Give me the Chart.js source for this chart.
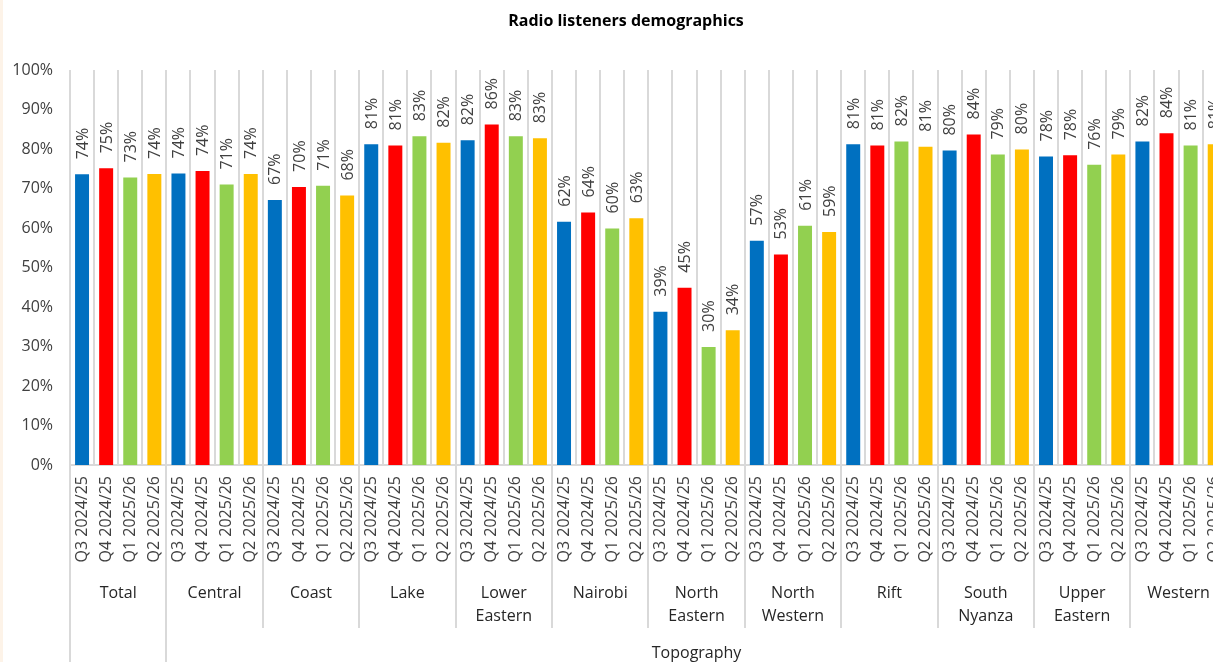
<!DOCTYPE html>
<html lang="en">
<head>
<meta charset="utf-8">
<title>Radio listeners demographics</title>
<script src="https://cdn.jsdelivr.net/npm/chart.js@4.4.1/dist/chart.umd.min.js"></script>
<style>
  html, body { margin: 0; padding: 0; background: #fff; overflow: hidden; }
  #wrap { position: relative; width: 1245px; height: 662px; border-left: 3px solid #fdf3e8; box-sizing: border-box; }
</style>
</head>
<body>
<div id="wrap"><canvas id="myChart"></canvas></div>

<script>
// regions (first one is the overall total, the rest sit under "Topography")
var regions = ['Total', 'Central', 'Coast', 'Lake', 'Lower\nEastern', 'Nairobi', 'North\nEastern',
  'North\nWestern', 'Rift', 'South\nNyanza', 'Upper\nEastern', 'Western'];
var quarters = ['Q3 2024/25', 'Q4 2024/25', 'Q1 2025/26', 'Q2 2025/26'];
var superGroup = 'Topography';

// share of listeners per quarter, %
var q3_2425 = [73.6, 73.8, 67.1, 81.2, 82.2, 61.6, 38.8, 56.8, 81.2, 79.6, 78.1, 81.9];
var q4_2425 = [75.1, 74.4, 70.4, 80.9, 86.2, 63.9, 44.9, 53.3, 80.9, 83.7, 78.4, 84.0];
var q1_2526 = [72.8, 71.0, 70.7, 83.2, 83.2, 59.9, 29.9, 60.6, 81.9, 78.6, 76.0, 80.9];
var q2_2526 = [73.7, 73.7, 68.2, 81.6, 82.7, 62.5, 34.1, 59.0, 80.6, 79.9, 78.6, 81.2];

var yTicks = [0, 10, 20, 30, 40, 50, 60, 70, 80, 90, 100];
var colors = ['#0070C0', '#FF0000', '#92D050', '#FFC000'];

// flatten into one bar per region/quarter
var series = [q3_2425, q4_2425, q1_2526, q2_2526];
var labels = [], values = [], barColors = [];
regions.forEach(function (r, i) {
  quarters.forEach(function (q, j) {
    labels.push(q);
    values.push(series[j][i]);
    barColors.push(colors[j]);
  });
});

var FONT = "'Open Sans', 'Noto Sans', sans-serif";
var AXIS_GRAY = '#d9d9d9';

// percentage written vertically above each bar
var barLabels = {
  id: 'barLabels',
  afterDatasetsDraw: function (chart) {
    var ctx = chart.ctx;
    var meta = chart.getDatasetMeta(0);
    ctx.save();
    ctx.font = '16px ' + FONT;
    ctx.fillStyle = '#404040';
    ctx.textAlign = 'left';
    ctx.textBaseline = 'middle';
    meta.data.forEach(function (bar, i) {
      ctx.save();
      ctx.translate(bar.x, bar.y - 15);
      ctx.rotate(-Math.PI / 2);
      ctx.fillText(Math.round(values[i]) + '%', 0, 1);
      ctx.restore();
    });
    ctx.restore();
  }
};

// title, region names, separators and the "Topography" band
var multiLevel = {
  id: 'multiLevel',
  afterDraw: function (chart) {
    var ctx = chart.ctx;
    var x = chart.scales.x;
    var area = chart.chartArea;
    var half = (x.getPixelForValue(1) - x.getPixelForValue(0)) / 2;
    ctx.save();

    ctx.font = 'bold 16px ' + FONT;
    ctx.fillStyle = '#000';
    ctx.textAlign = 'center';
    ctx.textBaseline = 'middle';
    ctx.fillText('Radio listeners demographics', 623, 21);

    ctx.strokeStyle = AXIS_GRAY;
    ctx.lineWidth = 2;
    for (var g = 0; g <= regions.length; g++) {
      var bx = Math.round(x.getPixelForValue(g * 4) - half);
      var bottom = (g <= 1) ? chart.height : 628;
      ctx.beginPath();
      ctx.moveTo(bx, area.bottom);
      ctx.lineTo(bx, bottom);
      ctx.stroke();
    }

    ctx.font = '16px ' + FONT;
    ctx.fillStyle = '#262626';
    regions.forEach(function (r, i) {
      var cx = (x.getPixelForValue(i * 4) + x.getPixelForValue(i * 4 + 3)) / 2;
      r.split('\n').forEach(function (line, k) {
        ctx.fillText(line, cx, 593 + k * 23);
      });
    });

    var left = x.getPixelForValue(4) - half;
    var right = x.getPixelForValue(labels.length - 1) + half;
    ctx.fillText(superGroup, (left + right) / 2, 653);
    ctx.restore();
  }
};

var config = {
  type: 'bar',
  data: {
    labels: labels,
    datasets: [{
      data: values,
      backgroundColor: barColors,
      borderWidth: 0,
      barPercentage: 0.58,
      categoryPercentage: 1
    }]
  },
  options: {
    responsive: false,
    animation: false,
    layout: { padding: { top: 70, right: 9, left: 0, bottom: 0 } },
    plugins: {
      legend: { display: false },
      title: { display: false },
      tooltip: { enabled: false }
    },
    scales: {
      x: {
        offset: true,
        grid: { display: true, offset: true, color: AXIS_GRAY, lineWidth: 2, drawTicks: false },
        border: { display: true, color: AXIS_GRAY, width: 2 },
        ticks: {
          autoSkip: false,
          maxRotation: 90,
          minRotation: 90,
          padding: 11,
          color: '#404040',
          font: { family: FONT, size: 16 }
        },
        afterFit: function (scale) { scale.height = 197; }
      },
      y: {
        min: 0,
        max: 100,
        afterBuildTicks: function (scale) {
          scale.ticks = yTicks.map(function (v) { return { value: v }; });
        },
        grid: { display: false, drawTicks: false },
        border: { display: false },
        ticks: {
          padding: 17,
          color: '#404040',
          font: { family: FONT, size: 16 },
          callback: function (v) { return v + '%'; }
        },
        afterFit: function (scale) { scale.width = 67; }
      }
    }
  },
  plugins: [barLabels, multiLevel]
};

var canvas = document.getElementById('myChart');
canvas.width = 1242;
canvas.height = 662;
var myChart = new Chart(canvas, config);
</script>
</body>
</html>
